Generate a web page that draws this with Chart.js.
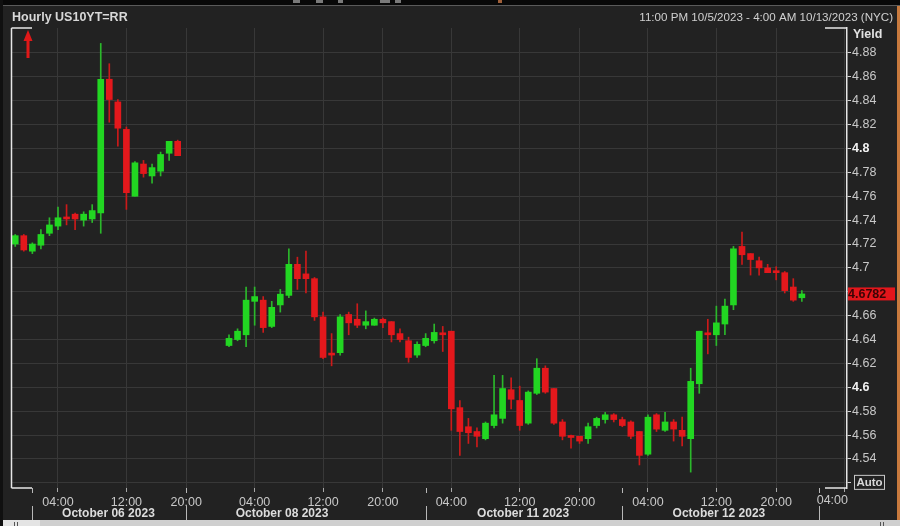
<!DOCTYPE html>
<html>
<head>
<meta charset="utf-8">
<script src="https://cdn.jsdelivr.net/npm/chart.js@4.4.1/dist/chart.umd.min.js"></script>
<style>
  html, body { margin: 0; padding: 0; background: #222222; }
  #wrap { width: 900px; height: 526px; }
</style>
</head>
<body>
<div id="wrap"><canvas id="c" width="900" height="526"></canvas></div>
<script>
// ---- DATA (hourly candles, index 0 = 23:00 slot before Oct 06; null = no trading) ----
const openV = [
  4.720, 4.727, 4.714, 4.719, 4.729, 4.735, 4.742, 4.745, 4.740, 4.741,
  4.746, 4.858, 4.839, 4.816, 4.760, 4.787, 4.777, 4.781, 4.796, 4.806,
  null, null, null, null, null,
  4.635, 4.640, 4.644, 4.672, 4.673, 4.651, 4.669, 4.677, 4.703, 4.695,
  4.691, 4.659, 4.628, 4.629, 4.661, 4.657, 4.652, 4.652, 4.657, 4.655,
  4.645, 4.639, 4.627, 4.635, 4.639, 4.645, 4.647, 4.583, 4.567, 4.563,
  4.557, 4.568, 4.574, 4.598, 4.589, 4.570, 4.595, 4.616, 4.599, 4.571,
  4.559, 4.559, 4.557, 4.568, 4.573, 4.577, 4.573, 4.571, 4.563, 4.544,
  4.577, 4.564, 4.571, 4.564, 4.557, 4.603, 4.645, 4.644, 4.653, 4.669,
  4.718, 4.712, 4.706, 4.700, 4.697, 4.696, 4.684, 4.675
];
const highV = [
  4.728, 4.728, 4.721, 4.732, 4.742, 4.751, 4.753, 4.746, 4.747, 4.753,
  4.888, 4.871, 4.841, 4.818, 4.789, 4.790, 4.787, 4.797, 4.806, 4.807,
  null, null, null, null, null,
  4.644, 4.649, 4.684, 4.684, 4.676, 4.672, 4.682, 4.716, 4.709, 4.714,
  4.692, 4.663, 4.645, 4.661, 4.663, 4.670, 4.664, 4.658, 4.658, 4.655,
  4.649, 4.642, 4.638, 4.645, 4.653, 4.651, 4.647, 4.589, 4.574, 4.566,
  4.571, 4.610, 4.610, 4.608, 4.601, 4.597, 4.624, 4.618, 4.599, 4.573,
  4.560, 4.559, 4.570, 4.575, 4.579, 4.578, 4.575, 4.572, 4.563, 4.577,
  4.578, 4.579, 4.573, 4.575, 4.616, 4.647, 4.657, 4.668, 4.674, 4.718,
  4.730, 4.712, 4.709, 4.703, 4.701, 4.697, 4.691, 4.681
];
const lowV = [
  4.718, 4.714, 4.712, 4.716, 4.727, 4.732, 4.736, 4.732, 4.735, 4.738,
  4.729, 4.822, 4.802, 4.749, 4.760, 4.776, 4.771, 4.777, 4.790, 4.794,
  null, null, null, null, null,
  4.634, 4.639, 4.634, 4.652, 4.646, 4.650, 4.663, 4.675, 4.682, 4.679,
  4.656, 4.624, 4.618, 4.627, 4.644, 4.650, 4.649, 4.652, 4.650, 4.638,
  4.638, 4.621, 4.625, 4.634, 4.637, 4.630, 4.564, 4.543, 4.553, 4.550,
  4.556, 4.566, 4.570, 4.582, 4.564, 4.569, 4.594, 4.595, 4.569, 4.556,
  4.549, 4.553, 4.553, 4.566, 4.570, 4.571, 4.567, 4.557, 4.535, 4.543,
  4.563, 4.563, 4.555, 4.551, 4.529, 4.595, 4.628, 4.635, 4.644, 4.665,
  4.703, 4.694, 4.694, 4.696, 4.690, 4.679, 4.672, 4.672
];
const closeV = [
  4.727, 4.715, 4.720, 4.728, 4.736, 4.742, 4.741, 4.741, 4.745, 4.748,
  4.858, 4.841, 4.817, 4.763, 4.788, 4.779, 4.784, 4.795, 4.806, 4.794,
  null, null, null, null, null,
  4.641, 4.647, 4.673, 4.676, 4.650, 4.667, 4.678, 4.703, 4.691, 4.691,
  4.659, 4.625, 4.627, 4.659, 4.654, 4.652, 4.655, 4.657, 4.654, 4.644,
  4.640, 4.625, 4.636, 4.641, 4.646, 4.644, 4.582, 4.563, 4.562, 4.559,
  4.570, 4.577, 4.599, 4.590, 4.568, 4.596, 4.616, 4.596, 4.570, 4.559,
  4.558, 4.555, 4.567, 4.574, 4.577, 4.573, 4.568, 4.559, 4.543, 4.575,
  4.565, 4.571, 4.565, 4.559, 4.605, 4.647, 4.644, 4.654, 4.668, 4.716,
  4.711, 4.707, 4.700, 4.696, 4.696, 4.681, 4.673, 4.6782
];
const lastPrice = 4.6782;

// y ticks
const yTicks = [4.52, 4.54, 4.56, 4.58, 4.60, 4.62, 4.64, 4.66, 4.68, 4.70, 4.72, 4.74, 4.76, 4.78, 4.80, 4.82, 4.84, 4.86, 4.88];
const yBold = [4.80, 4.60];
const yHidden = [4.52, 4.68]; // covered by the Auto box / last-price box
// time-of-day labels shown on x axis
const xTickHours = ['04:00', '12:00', '20:00'];
// date row
const dateLabels = ['October 06 2023', 'October 08 2023', 'October 11 2023', 'October 12 2023'];
const dateLabelAt = [10.9, 31.2, 59.4, 82.3];
const dateDividerAt = [2, 20, 48, 71, 94];

// hourly slots (one hour per slot, 17:00 settlement hour skipped), 23:00 ... 04:00
const slotLabels = [];
(function () {
  let h = 23;
  for (let i = 0; i < 98; i++) {
    slotLabels.push((h < 10 ? '0' : '') + h + ':00');
    h = (h + 1) % 24;
    if (h === 17) h = 18;
  }
})();

const GREEN = '#22d622', RED = '#e3181c';
const GREEN_W = '#2bb82b', RED_W = '#cc1a1a';

const bodies = [], wicks = [], bodyCol = [], wickCol = [];
for (let i = 0; i < openV.length; i++) {
  if (openV[i] == null) continue;
  const up = closeV[i] >= openV[i];
  bodies.push({ x: i, y: [openV[i], closeV[i]] });
  wicks.push({ x: i, y: [lowV[i], highV[i]] });
  bodyCol.push(up ? GREEN : RED);
  wickCol.push(up ? GREEN_W : RED_W);
}
const xTickIdx = [];
slotLabels.forEach((l, i) => { if (xTickHours.includes(l)) xTickIdx.push(i); });
const lastIdx = slotLabels.length - 1;

const FONT = "'Liberation Sans', Arial, sans-serif";
Chart.defaults.font.family = FONT;

const near = (arr, v) => arr.some(b => Math.abs(b - v) < 1e-6);
const isBold = ctx => !!(ctx && ctx.tick && near(yBold, ctx.tick.value));

const deco = {
  id: 'deco',
  beforeDraw(chart) {
    const c = chart.ctx;
    c.save();
    c.fillStyle = '#222222';
    c.fillRect(0, 0, 900, 526);
    // top toolbar strip
    c.fillStyle = '#080808';
    c.fillRect(0, 0, 900, 5);
    c.fillStyle = '#5a5a5a';
    c.fillRect(0, 5, 900, 1);
    c.fillStyle = '#7a7a7a';
    [[293, 0, 7, 3], [316, 0, 7, 3], [338, 0, 5, 3], [380, 0, 10, 3], [395, 0, 6, 3]].forEach(r => c.fillRect(...r));
    c.fillStyle = '#a0603a';
    c.fillRect(498, 0, 4, 3);
    // left dark edge
    c.fillStyle = '#101010';
    c.fillRect(0, 0, 3, 526);
    c.restore();
  },
  afterDraw(chart) {
    const c = chart.ctx, a = chart.chartArea;
    const xs = chart.scales.x, ys = chart.scales.y;
    c.save();
    // frame
    c.strokeStyle = '#e6e6e6';
    c.lineWidth = 1.5;
    c.beginPath();
    c.moveTo(a.left - 0.5, a.top); c.lineTo(a.left - 0.5, a.bottom);
    c.moveTo(a.left - 0.5, a.top); c.lineTo(a.left + 20, a.top);
    c.moveTo(a.left - 0.5, a.bottom); c.lineTo(a.left + 20, a.bottom);
    c.moveTo(a.right - 22, a.top); c.lineTo(a.right, a.top);
    c.moveTo(a.right - 22, a.bottom); c.lineTo(a.right, a.bottom);
    c.stroke();

    // red arrow
    c.fillStyle = '#e01818';
    c.beginPath();
    c.moveTo(28, 30); c.lineTo(32.5, 41); c.lineTo(23.5, 41); c.closePath(); c.fill();
    c.fillRect(26.5, 40, 3, 18);

    // header texts
    c.textBaseline = 'middle';
    c.fillStyle = '#d8d8d8';
    c.font = 'bold 12.5px ' + FONT;
    c.textAlign = 'left';
    c.fillText('Hourly US10YT=RR', 12, 18);
    c.font = '11.6px ' + FONT;
    c.textAlign = 'right';
    c.fillStyle = '#d0d0d0';
    c.fillText('11:00 PM 10/5/2023 - 4:00 AM 10/13/2023 (NYC)', 893, 18);
    c.textAlign = 'left';
    c.font = 'bold 12.5px ' + FONT;
    c.fillStyle = '#e2e2e2';
    c.fillText('Yield', 853, 35);

    // last 04:00 label (clamped at right edge)
    c.font = '12.5px ' + FONT;
    c.fillStyle = '#c8c8c8';
    c.textAlign = 'right';
    c.fillText(slotLabels[lastIdx], a.right + 1, 501);

    // date row
    c.textAlign = 'center';
    c.font = 'bold 12px ' + FONT;
    c.fillStyle = '#dcdcdc';
    dateLabels.forEach((t, i) => c.fillText(t, xs.getPixelForValue(dateLabelAt[i]), 514));
    c.strokeStyle = '#b8b8b8';
    c.lineWidth = 1;
    dateDividerAt.forEach(v => {
      const px = Math.round(xs.getPixelForValue(v)) + 0.5;
      c.beginPath();
      c.moveTo(px, a.bottom); c.lineTo(px, a.bottom + 5);
      c.moveTo(px, 506); c.lineTo(px, 520);
      c.stroke();
    });

    // last price box
    const py = ys.getPixelForValue(lastPrice);
    c.fillStyle = '#e3161b';
    c.fillRect(848, py - 6.5, 47, 13);
    c.fillStyle = '#3a0505';
    c.font = 'bold 12.5px ' + FONT;
    c.textAlign = 'left';
    c.fillText(lastPrice.toFixed(4), 848, py + 0.5);

    // Auto box
    const ay = ys.getPixelForValue(4.52);
    c.strokeStyle = '#c8c8c8';
    c.lineWidth = 1;
    c.strokeRect(854.5, ay - 7.5, 30, 14);
    c.fillStyle = '#d8d8d8';
    c.font = 'bold 11.5px ' + FONT;
    c.textAlign = 'center';
    c.fillText('Auto', 869.5, ay);

    // right orange edge
    c.fillStyle = '#c87a3e';
    c.fillRect(897, 6, 3, 514);
    // bottom scrollbar strip
    c.fillStyle = '#cfcfcf';
    c.fillRect(0, 520, 900, 6);
    c.fillStyle = '#e4e4e4';
    c.fillRect(3, 520, 37, 6);
    c.fillStyle = '#555';
    c.fillRect(14, 522, 1, 4); c.fillRect(17, 522, 1, 4);
    c.fillRect(880, 522, 1, 4); c.fillRect(883, 522, 1, 4);
    c.fillStyle = '#101010';
    c.fillRect(0, 520, 3, 6);
    c.restore();
  }
};

new Chart(document.getElementById('c'), {
  type: 'bar',
  data: {
    datasets: [
      { data: wicks, backgroundColor: wickCol, barThickness: 1, grouped: false, order: 2 },
      { data: bodies, backgroundColor: bodyCol, barThickness: 6, grouped: false, minBarLength: 2, order: 1 }
    ]
  },
  options: {
    responsive: false,
    animation: false,
    devicePixelRatio: 1,
    layout: { padding: { top: 28, left: 12, right: 0, bottom: 0 } },
    plugins: { legend: { display: false }, tooltip: { enabled: false } },
    scales: {
      x: {
        type: 'linear',
        offset: false,
        min: -0.38,
        max: 97.28,
        afterFit: s => { s.height = 38; },
        afterBuildTicks: s => { s.ticks = xTickIdx.map(v => ({ value: v })); },
        border: { display: false },
        grid: { offset: false, color: '#383838', lineWidth: 1, tickColor: '#a8a8a8', tickLength: 4 },
        ticks: {
          autoSkip: false, maxRotation: 0, minRotation: 0, padding: 3,
          color: '#c8c8c8', font: { size: 12.5, family: FONT },
          callback: v => (v === lastIdx ? '' : slotLabels[v])
        }
      },
      y: {
        position: 'right',
        beginAtZero: false,
        min: 4.5157,
        max: 4.9009,
        afterFit: s => { s.width = 53; },
        afterBuildTicks: s => { s.ticks = yTicks.map(v => ({ value: v })); },
        border: { display: true, color: '#e6e6e6', width: 1.5 },
        grid: { color: '#383838', lineWidth: 1, tickColor: '#d0d0d0', tickLength: 4 },
        ticks: {
          padding: 1,
          color: ctx => (isBold(ctx) ? '#f2f2f2' : '#c8c8c8'),
          font: ctx => ({ size: 12.5, family: FONT, weight: isBold(ctx) ? 'bold' : 'normal' }),
          callback: v => (near(yHidden, v) ? '' : String(parseFloat(Number(v).toFixed(2))))
        }
      }
    }
  },
  plugins: [deco]
});
</script>
</body>
</html>
